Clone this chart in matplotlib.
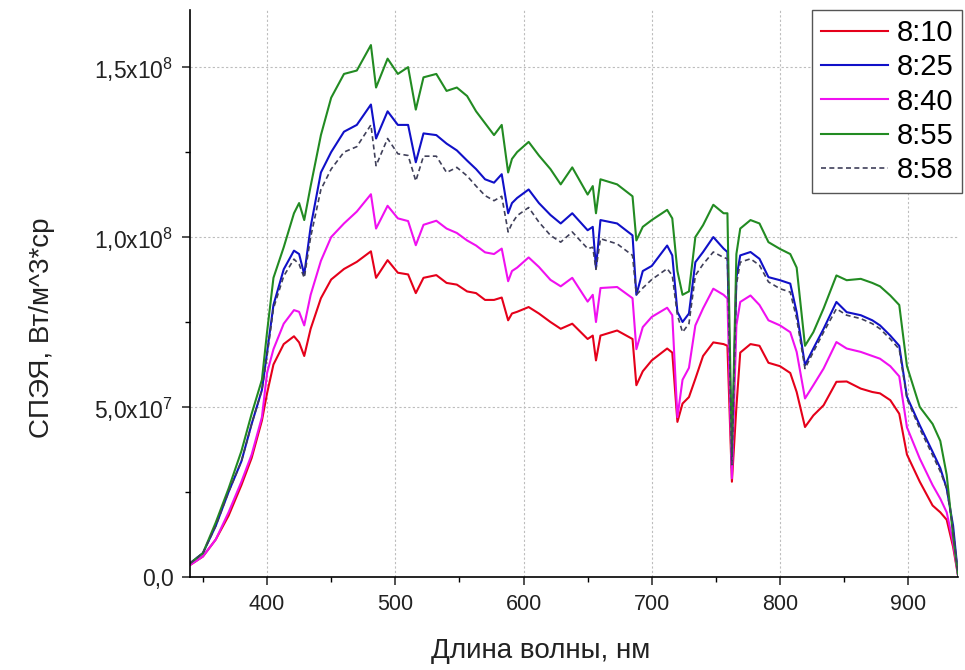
import numpy as np
import matplotlib
matplotlib.use('Agg')
import matplotlib.pyplot as plt
from matplotlib.ticker import MultipleLocator

plt.rcParams['font.family'] = ['Liberation Sans', 'DejaVu Sans']
plt.rcParams['mathtext.default'] = 'regular'

# wavelength grid, nm
wl = [340, 350, 360, 370, 380, 388, 396, 400, 405, 413, 421, 425, 429, 434, 442,
      450, 460, 470, 481, 485, 494, 502, 510, 516, 522, 532, 540, 548, 556, 563,
      570, 577, 583, 588, 591, 595, 604, 612, 621, 629, 638, 650, 654, 656.5, 660,
      673, 685, 688, 693, 700, 712, 716, 720, 724, 729, 734, 740, 748, 756, 759,
      762.5, 766, 769, 777, 784, 791, 800, 808, 813, 819.5, 826, 834, 844, 852, 863,
      872, 878, 886, 893, 899, 909, 919, 925, 930, 935, 939]

# spectral radiance, x1e8
s_0810 = [0.035, 0.06, 0.11, 0.18, 0.27, 0.35, 0.46, 0.54, 0.625, 0.685, 0.708, 0.69, 0.65, 0.73, 0.82,
          0.875, 0.906, 0.927, 0.958, 0.88, 0.932, 0.895, 0.89, 0.835, 0.88, 0.888, 0.865, 0.86, 0.84, 0.835,
          0.815, 0.815, 0.822, 0.755, 0.775, 0.78, 0.794, 0.775, 0.75, 0.73, 0.745, 0.70, 0.71, 0.637, 0.71,
          0.725, 0.70, 0.564, 0.605, 0.637, 0.672, 0.66, 0.456, 0.51, 0.529, 0.583, 0.65, 0.69, 0.685, 0.68,
          0.28, 0.50, 0.66, 0.685, 0.68, 0.63, 0.62, 0.60, 0.544, 0.441, 0.475, 0.505, 0.574, 0.575, 0.554,
          0.544, 0.54, 0.52, 0.48, 0.36, 0.28, 0.21, 0.19, 0.168, 0.088, 0.0]

s_0825 = [0.04, 0.07, 0.15, 0.25, 0.34, 0.45, 0.55, 0.66, 0.80, 0.905, 0.96, 0.95, 0.89, 1.03, 1.19,
          1.25, 1.31, 1.33, 1.39, 1.29, 1.37, 1.33, 1.33, 1.22, 1.305, 1.30, 1.275, 1.255, 1.225, 1.20,
          1.17, 1.16, 1.185, 1.07, 1.10, 1.115, 1.14, 1.10, 1.065, 1.04, 1.07, 1.02, 1.03, 0.91, 1.05,
          1.04, 1.005, 0.83, 0.90, 0.915, 0.975, 0.946, 0.78, 0.75, 0.775, 0.926, 0.956, 1.0, 0.966, 0.956,
          0.32, 0.88, 0.946, 0.956, 0.936, 0.882, 0.873, 0.863, 0.779, 0.623, 0.672, 0.73, 0.809, 0.779, 0.77,
          0.755, 0.74, 0.71, 0.68, 0.53, 0.446, 0.368, 0.32, 0.26, 0.15, 0.0]

s_0840 = [0.035, 0.06, 0.11, 0.19, 0.28, 0.36, 0.47, 0.60, 0.67, 0.745, 0.785, 0.78, 0.74, 0.83, 0.93,
          1.0, 1.04, 1.075, 1.126, 1.025, 1.092, 1.055, 1.047, 0.976, 1.036, 1.048, 1.025, 1.012, 0.99, 0.975,
          0.955, 0.95, 0.966, 0.87, 0.90, 0.91, 0.94, 0.912, 0.874, 0.855, 0.88, 0.81, 0.83, 0.75, 0.85,
          0.853, 0.82, 0.67, 0.735, 0.765, 0.792, 0.77, 0.47, 0.58, 0.615, 0.74, 0.79, 0.848, 0.83, 0.819,
          0.29, 0.74, 0.809, 0.828, 0.80, 0.755, 0.74, 0.72, 0.662, 0.525, 0.564, 0.613, 0.691, 0.672, 0.662,
          0.65, 0.642, 0.62, 0.59, 0.44, 0.348, 0.27, 0.23, 0.19, 0.10, 0.0]

s_0855 = [0.04, 0.07, 0.16, 0.26, 0.37, 0.48, 0.58, 0.72, 0.88, 0.97, 1.07, 1.10, 1.05, 1.15, 1.30,
          1.41, 1.48, 1.49, 1.565, 1.44, 1.525, 1.48, 1.50, 1.375, 1.47, 1.48, 1.43, 1.44, 1.415, 1.37,
          1.335, 1.30, 1.33, 1.19, 1.23, 1.25, 1.28, 1.24, 1.20, 1.155, 1.205, 1.125, 1.15, 1.07, 1.17,
          1.155, 1.12, 0.99, 1.03, 1.05, 1.08, 1.055, 0.90, 0.83, 0.84, 1.0, 1.035, 1.095, 1.07, 1.07,
          0.36, 0.95, 1.025, 1.05, 1.04, 0.985, 0.965, 0.95, 0.91, 0.68, 0.72, 0.79, 0.887, 0.873, 0.877,
          0.865, 0.855, 0.828, 0.80, 0.62, 0.50, 0.45, 0.40, 0.30, 0.12, 0.0]

s_0858 = [0.04, 0.07, 0.15, 0.25, 0.34, 0.45, 0.55, 0.65, 0.79, 0.885, 0.935, 0.92, 0.88, 1.0, 1.14,
          1.20, 1.25, 1.266, 1.33, 1.21, 1.29, 1.245, 1.24, 1.165, 1.238, 1.238, 1.19, 1.205, 1.18, 1.15,
          1.122, 1.107, 1.12, 1.015, 1.04, 1.063, 1.087, 1.044, 1.005, 0.985, 1.015, 0.966, 0.97, 0.905, 0.995,
          0.98, 0.946, 0.83, 0.85, 0.875, 0.907, 0.887, 0.77, 0.72, 0.745, 0.887, 0.92, 0.956, 0.94, 0.936,
          0.33, 0.86, 0.926, 0.936, 0.917, 0.868, 0.848, 0.838, 0.76, 0.613, 0.662, 0.72, 0.789, 0.77, 0.76,
          0.745, 0.73, 0.70, 0.67, 0.524, 0.436, 0.358, 0.31, 0.26, 0.14, 0.0]

labels = ['8:10', '8:25', '8:40', '8:55', '8:58']
yticks = [0, 5e7, 1e8, 1.5e8]
ytick_labels = ['0,0', '5,0x10$^{7}$', '1,0x10$^{8}$', '1,5x10$^{8}$']

fig = plt.figure(figsize=(9.65, 6.7), dpi=100)
ax = fig.add_axes([0.197, 0.139, 0.796, 0.846])

wl = np.array(wl)
ax.plot(wl, np.array(s_0810) * 1e8, color='#e5001a', lw=1.5, label=labels[0])
ax.plot(wl, np.array(s_0825) * 1e8, color='#1010c8', lw=1.5, label=labels[1])
ax.plot(wl, np.array(s_0840) * 1e8, color='#f010f0', lw=1.5, label=labels[2])
ax.plot(wl, np.array(s_0855) * 1e8, color='#228b22', lw=1.5, label=labels[3])
ax.plot(wl, np.array(s_0858) * 1e8, color='#40405a', lw=1.2, ls=(0, (3, 2)), label=labels[4])

ax.set_xlim(340, 939)
ax.set_ylim(0, 1.668e8)
ax.xaxis.set_major_locator(MultipleLocator(100))
ax.xaxis.set_minor_locator(MultipleLocator(50))
ax.set_yticks(yticks)
ax.set_yticklabels(ytick_labels)
ax.yaxis.set_minor_locator(MultipleLocator(2.5e7))

for s in ['top', 'right']:
    ax.spines[s].set_visible(False)
for s in ['left', 'bottom']:
    ax.spines[s].set_linewidth(1.2)
ax.tick_params(which='major', direction='out', length=6, width=1.1, labelsize=15.5,
               colors='#222222', pad=6)
ax.tick_params(axis='y', which='major', labelsize=16.5)
ax.tick_params(which='minor', direction='out', length=3.5, width=1.0)
ax.grid(True, which='major', color='#bdbdbd', lw=0.8, ls=(0, (2, 2)))

ax.set_xlabel('Длина волны, нм', fontsize=20, color='#222222')
ax.set_ylabel('СПЭЯ, Вт/м^3*ср', fontsize=20, color='#222222')
ax.xaxis.set_label_coords(0.456, -0.108)
ax.yaxis.set_label_coords(-0.176, 0.44)

leg = ax.legend(loc='upper right', bbox_to_anchor=(0.997, 0.985), bbox_transform=fig.transFigure,
                fontsize=21, handlelength=2.3, handletextpad=0.3, labelspacing=0.22,
                borderpad=0.3, borderaxespad=0, fancybox=False, framealpha=1)
leg.get_frame().set_edgecolor('#555555')
leg.get_frame().set_linewidth(1.0)

fig.savefig('out.png', dpi=100)
